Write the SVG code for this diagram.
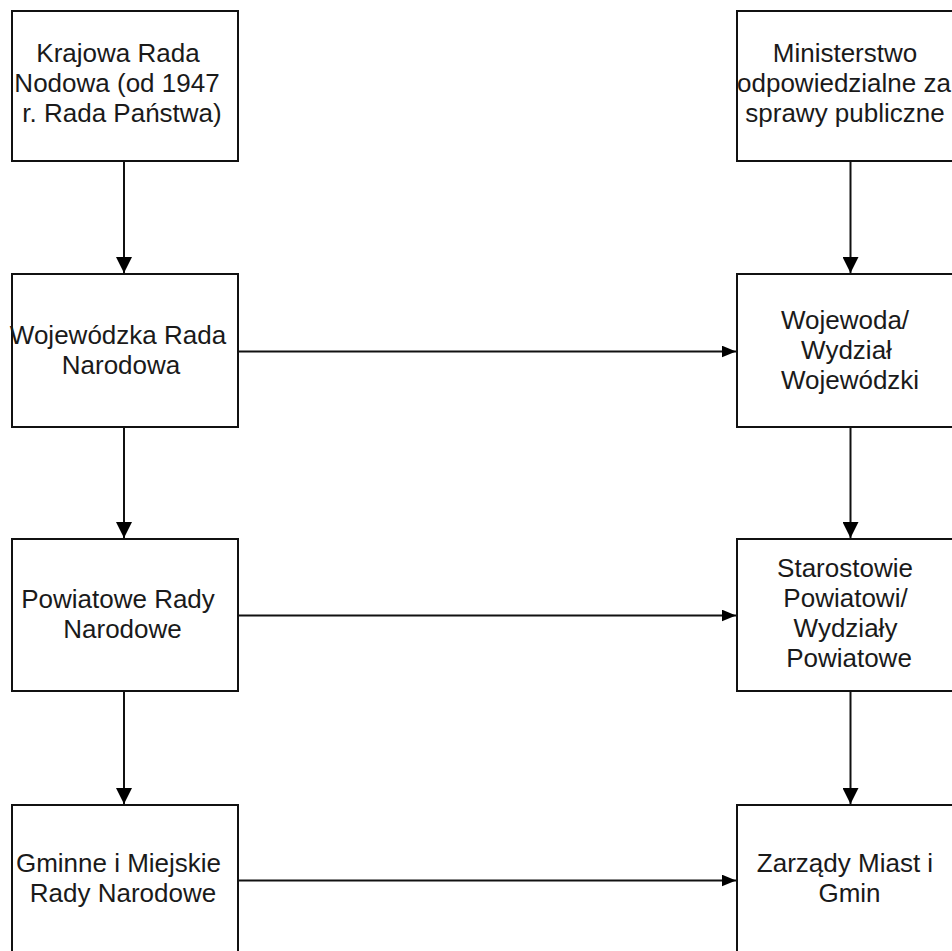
<svg xmlns="http://www.w3.org/2000/svg" width="952" height="951" viewBox="0 0 952 951">
<defs>
<style>
.box{fill:#fff;stroke:#111;stroke-width:2}
.lbl{font-family:"Liberation Sans",Arial,sans-serif;font-size:26px;fill:#1a1a1a;text-anchor:middle}
.con{stroke:#111;stroke-width:2;fill:none}
</style>
<marker id="ad" markerUnits="userSpaceOnUse" markerWidth="16" markerHeight="16" viewBox="0 0 14 14" refX="14" refY="7" orient="auto">
<path d="M0,0 L14,7 L0,14 Z" fill="#000"/>
</marker>
<marker id="ah" markerUnits="userSpaceOnUse" markerWidth="14" markerHeight="12" viewBox="0 0 12 10" refX="12" refY="5" orient="auto">
<path d="M0,0 L12,5 L0,10 Z" fill="#000"/>
</marker>
</defs>
<rect width="952" height="951" fill="#fff"/>
<g id="connectors">
<line class="con" x1="124" y1="161" x2="124" y2="273" marker-end="url(#ad)"/>
<line class="con" x1="124" y1="427" x2="124" y2="538" marker-end="url(#ad)"/>
<line class="con" x1="124" y1="691" x2="124" y2="804" marker-end="url(#ad)"/>
<line class="con" x1="850.5" y1="161" x2="850.5" y2="273" marker-end="url(#ad)"/>
<line class="con" x1="850.5" y1="427" x2="850.5" y2="538" marker-end="url(#ad)"/>
<line class="con" x1="850.5" y1="691" x2="850.5" y2="804" marker-end="url(#ad)"/>
<line class="con" x1="238" y1="351.5" x2="736" y2="351.5" marker-end="url(#ah)"/>
<line class="con" x1="238" y1="615.5" x2="736" y2="615.5" marker-end="url(#ah)"/>
<line class="con" x1="238" y1="880.5" x2="736" y2="880.5" marker-end="url(#ah)"/>
</g>
<g id="krajowa">
<rect class="box" x="12" y="11" width="226" height="150"/>
<text class="lbl"><tspan x="118" y="62">Krajowa Rada</tspan><tspan x="117" y="92">Nodowa (od 1947</tspan><tspan x="122" y="122">r. Rada Państwa)</tspan></text>
</g>
<g id="ministerstwo">
<rect class="box" x="737" y="11" width="230" height="150"/>
<text class="lbl"><tspan x="845" y="62">Ministerstwo</tspan><tspan x="844" y="92">odpowiedzialne za</tspan><tspan x="845" y="122">sprawy publiczne</tspan></text>
</g>
<g id="wojewodzka-rada">
<rect class="box" x="12" y="274" width="226" height="153"/>
<text class="lbl"><tspan x="118" y="344">Wojewódzka Rada</tspan><tspan x="121" y="374">Narodowa</tspan></text>
</g>
<g id="wojewoda">
<rect class="box" x="737" y="274" width="230" height="153"/>
<text class="lbl"><tspan x="845" y="329">Wojewoda/</tspan><tspan x="846.5" y="359">Wydział</tspan><tspan x="850" y="389">Wojewódzki</tspan></text>
</g>
<g id="powiatowe-rady">
<rect class="box" x="12" y="539" width="226" height="152"/>
<text class="lbl"><tspan x="118" y="608">Powiatowe Rady</tspan><tspan x="122.5" y="638">Narodowe</tspan></text>
</g>
<g id="starostowie">
<rect class="box" x="737" y="539" width="230" height="152"/>
<text class="lbl"><tspan x="845" y="577">Starostowie</tspan><tspan x="845.5" y="607">Powiatowi/</tspan><tspan x="845.5" y="637">Wydziały</tspan><tspan x="849" y="667">Powiatowe</tspan></text>
</g>
<g id="gminne">
<rect class="box" x="12" y="805" width="226" height="152"/>
<text class="lbl"><tspan x="118.5" y="872">Gminne i Miejskie</tspan><tspan x="123" y="902">Rady Narodowe</tspan></text>
</g>
<g id="zarzady">
<rect class="box" x="737" y="805" width="230" height="152"/>
<text class="lbl"><tspan x="845" y="872">Zarządy Miast i</tspan><tspan x="849.5" y="902">Gmin</tspan></text>
</g>
</svg>
